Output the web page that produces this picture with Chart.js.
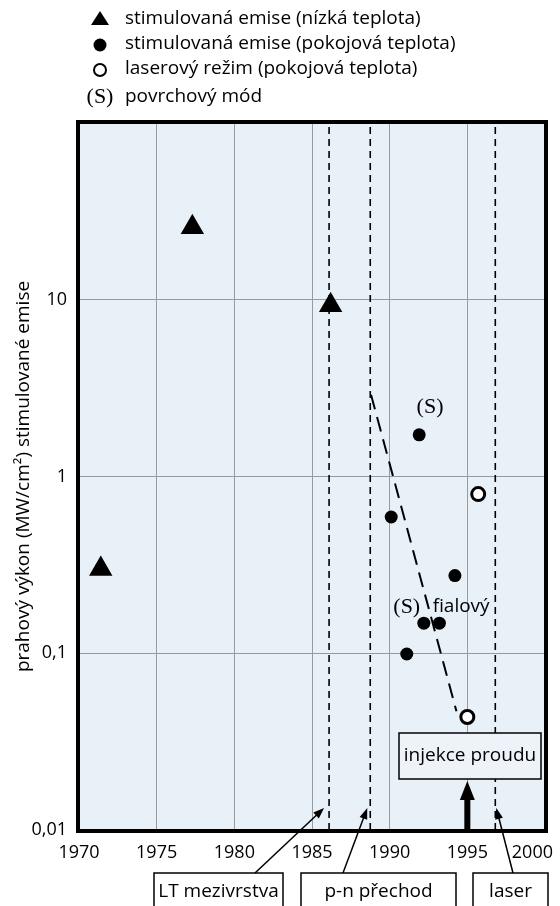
<!DOCTYPE html>
<html>
<head>
<meta charset="utf-8">
<script src="https://cdn.jsdelivr.net/npm/chart.js@4.4.1/dist/chart.umd.min.js"></script>
<style>
  html, body { margin: 0; padding: 0; background: #fff; }
</style>
</head>
<body>
<canvas id="chart" width="560" height="906"></canvas>
<script>
// data
const lowTempYears = [1971.4, 1977.3, 1986.2];
const lowTempValues = [0.30, 25.7, 9.3];
const roomTempYears = [1990.1, 1991.1, 1991.9, 1992.2, 1993.2, 1994.2];
const roomTempValues = [0.59, 0.099, 1.72, 0.148, 0.148, 0.275];
const laserYears = [1995.0, 1995.7];
const laserValues = [0.0436, 0.795];
const trendYears = [1988.8, 1994.3];
const trendValues = [2.9, 0.047];
const milestoneYears = [1986.1, 1988.75, 1996.8];
const milestoneLabels = ['LT mezivrstva', 'p-n přechod', 'laser'];
const surfaceModeLabels = [
  { year: 1992.6, value: 2.47, text: '(S)' },
  { year: 1991.1, value: 0.183, text: '(S)' }
];
const violetLabel = { year: 1994.6, value: 0.183, text: 'fialový' };
const currentInjectionYear = 1995;
const xTicks = [1970, 1975, 1980, 1985, 1990, 1995, 2000];
const yTicks = [0.01, 0.1, 1, 10, 100];
const yTickLabels = ['0,01', '0,1', '1', '10', ''];
const seriesNames = [
  'stimulovaná emise (nízká teplota)',
  'stimulovaná emise (pokojová teplota)',
  'laserový režim (pokojová teplota)',
  'povrchový mód'
];
const yTitle = 'prahový výkon (MW/cm²) stimulované emise';

const FONT = '"Open Sans", "Noto Sans", sans-serif';
const SERIF = '"Liberation Serif", "DejaVu Serif", serif';
const PLOT_BG = '#e8f0f8';

const pts = (xs, ys) => xs.map((x, i) => ({ x: x, y: ys[i] }));

const milestoneSets = milestoneYears.map(y => ({
  type: 'line',
  data: [{ x: y, y: 0.01 }, { x: y, y: 100 }],
  borderColor: '#000',
  borderWidth: 1.6,
  borderDash: [7, 5],
  pointRadius: 0,
  fill: false,
  order: 5
}));

function arrow(ctx, x1, y1, x2, y2, head, width) {
  const a = Math.atan2(y2 - y1, x2 - x1);
  ctx.beginPath();
  ctx.moveTo(x1, y1);
  ctx.lineTo(x2 - Math.cos(a) * head * 0.8, y2 - Math.sin(a) * head * 0.8);
  ctx.stroke();
  ctx.beginPath();
  ctx.moveTo(x2, y2);
  ctx.lineTo(x2 - Math.cos(a) * head + Math.sin(a) * width, y2 - Math.sin(a) * head - Math.cos(a) * width);
  ctx.lineTo(x2 - Math.cos(a) * head - Math.sin(a) * width, y2 - Math.sin(a) * head + Math.cos(a) * width);
  ctx.closePath();
  ctx.fill();
}

const decorations = {
  id: 'decorations',
  beforeDraw(chart) {
    const { ctx, chartArea: a } = chart;
    ctx.save();
    ctx.fillStyle = PLOT_BG;
    ctx.fillRect(a.left, a.top, a.right - a.left, a.bottom - a.top);
    ctx.restore();
  },
  afterDatasetsDraw(chart) {
    const { ctx, chartArea: a } = chart;
    const xs = chart.scales.x, ys = chart.scales.y;
    ctx.save();
    // text labels in the plot
    ctx.fillStyle = '#000';
    ctx.textAlign = 'center';
    ctx.textBaseline = 'middle';
    ctx.font = '22px ' + SERIF;
    surfaceModeLabels.forEach(l => {
      ctx.fillText(l.text, xs.getPixelForValue(l.year), ys.getPixelForValue(l.value));
    });
    ctx.font = '19px ' + FONT;
    ctx.fillText(violetLabel.text, xs.getPixelForValue(violetLabel.year), ys.getPixelForValue(violetLabel.value));

    // current injection box and thick arrow
    const ix = xs.getPixelForValue(currentInjectionYear);
    ctx.fillStyle = '#edf3f9';
    ctx.fillRect(399, 733, 142, 46);
    ctx.strokeStyle = '#000';
    ctx.lineWidth = 1.5;
    ctx.strokeRect(399, 733, 142, 46);
    ctx.fillStyle = '#000';
    ctx.font = '19px ' + FONT;
    ctx.fillText('injekce proudu', 470, 756);
    ctx.fillRect(ix - 3, 798, 6, a.bottom - 798);
    ctx.beginPath();
    ctx.moveTo(ix, 781);
    ctx.lineTo(ix + 7.5, 800);
    ctx.lineTo(ix - 7.5, 800);
    ctx.closePath();
    ctx.fill();

    // plot frame
    ctx.lineWidth = 4;
    ctx.strokeRect(a.left - 1, a.top - 1, a.right - a.left + 2, a.bottom - a.top + 2);
    ctx.restore();
  },
  afterDraw(chart) {
    const { ctx } = chart;
    const xs = chart.scales.x;
    ctx.save();
    ctx.fillStyle = '#000';
    ctx.strokeStyle = '#000';

    // x tick labels, kept inside the canvas
    ctx.font = '18px ' + FONT;
    ctx.textAlign = 'center';
    ctx.textBaseline = 'middle';
    xTicks.forEach(t => {
      const w = ctx.measureText(String(t)).width;
      const px = Math.min(xs.getPixelForValue(t), chart.width - 7 - w / 2);
      ctx.fillText(String(t), px, 853);
    });

    // legend
    const rows = [19, 44, 69, 97];
    const mx = 100;
    ctx.beginPath();
    ctx.moveTo(mx, rows[0] - 8);
    ctx.lineTo(mx + 9, rows[0] + 6);
    ctx.lineTo(mx - 9, rows[0] + 6);
    ctx.closePath();
    ctx.fill();
    ctx.beginPath();
    ctx.arc(mx, rows[1] + 1, 6.5, 0, Math.PI * 2);
    ctx.fill();
    ctx.lineWidth = 2;
    ctx.beginPath();
    ctx.arc(mx, rows[2] + 1, 6, 0, Math.PI * 2);
    ctx.stroke();
    ctx.textAlign = 'center';
    ctx.font = '22px ' + SERIF;
    ctx.fillText('(S)', mx, rows[3]);
    ctx.textAlign = 'left';
    ctx.font = '19px ' + FONT;
    seriesNames.forEach((n, i) => ctx.fillText(n, 125, rows[i]));

    // milestone boxes with arrows
    const boxes = [[154, 129], [301, 155], [473, 75]];
    const tails = [255, 343, 513];
    const tipShift = [-5, -3, 1];
    ctx.lineWidth = 1.5;
    ctx.textAlign = 'center';
    ctx.font = '19px ' + FONT;
    milestoneLabels.forEach((lab, i) => {
      const [bx, bw] = boxes[i];
      ctx.fillStyle = '#fff';
      ctx.fillRect(bx, 873, bw, 40);
      ctx.strokeRect(bx, 873, bw, 40);
      ctx.fillStyle = '#000';
      ctx.fillText(lab, bx + bw / 2, 892);
      const tipX = xs.getPixelForValue(milestoneYears[i]) + tipShift[i];
      arrow(ctx, tails[i], 873, tipX, 808, 11, 4);
    });
    ctx.restore();
  }
};

new Chart(document.getElementById('chart'), {
  type: 'scatter',
  data: {
    datasets: [
      {
        label: seriesNames[0],
        data: pts(lowTempYears, lowTempValues),
        pointStyle: 'triangle',
        pointRadius: 12,
        backgroundColor: '#000',
        borderColor: '#000',
        borderWidth: 1.5,
        order: 1
      },
      {
        label: seriesNames[1],
        data: pts(roomTempYears, roomTempValues),
        pointStyle: 'circle',
        pointRadius: 6.5,
        backgroundColor: '#000',
        borderColor: '#000',
        borderWidth: 0,
        order: 1
      },
      {
        label: seriesNames[2],
        data: pts(laserYears, laserValues),
        pointStyle: 'circle',
        pointRadius: 6.5,
        backgroundColor: '#fff',
        borderColor: '#000',
        borderWidth: 3,
        order: 1
      },
      {
        type: 'line',
        data: pts(trendYears, trendValues),
        borderColor: '#000',
        borderWidth: 2,
        borderDash: [15, 8],
        pointRadius: 0,
        fill: false,
        order: 3
      },
      ...milestoneSets
    ]
  },
  options: {
    responsive: false,
    animation: false,
    events: [],
    layout: { padding: { top: 123, right: 15, left: 0, bottom: 0 } },
    plugins: { legend: { display: false }, tooltip: { enabled: false } },
    scales: {
      x: {
        type: 'linear',
        min: 1970,
        max: 2000,
        ticks: { stepSize: 5, display: false },
        grid: { color: '#9a9a9a', lineWidth: 1, drawTicks: false },
        border: { display: false },
        afterFit(s) { s.height = 76; }
      },
      y: {
        type: 'logarithmic',
        min: 0.01,
        max: 100,
        afterBuildTicks(s) { s.ticks = yTicks.map(v => ({ value: v })); },
        ticks: {
          padding: 12,
          color: '#000',
          font: { family: FONT, size: 18 },
          callback: (v) => {
            const i = yTicks.findIndex(t => Math.abs(t - v) < v * 1e-6);
            return i >= 0 ? yTickLabels[i] : '';
          }
        },
        grid: { color: '#9a9a9a', lineWidth: 1, drawTicks: false },
        border: { display: false },
        title: {
          display: true,
          text: yTitle,
          color: '#000',
          font: { family: FONT, size: 19 },
          padding: { top: 12, bottom: 0 }
        },
        afterFit(s) { s.width = 79; }
      }
    }
  },
  plugins: [decorations]
});
</script>
</body>
</html>
